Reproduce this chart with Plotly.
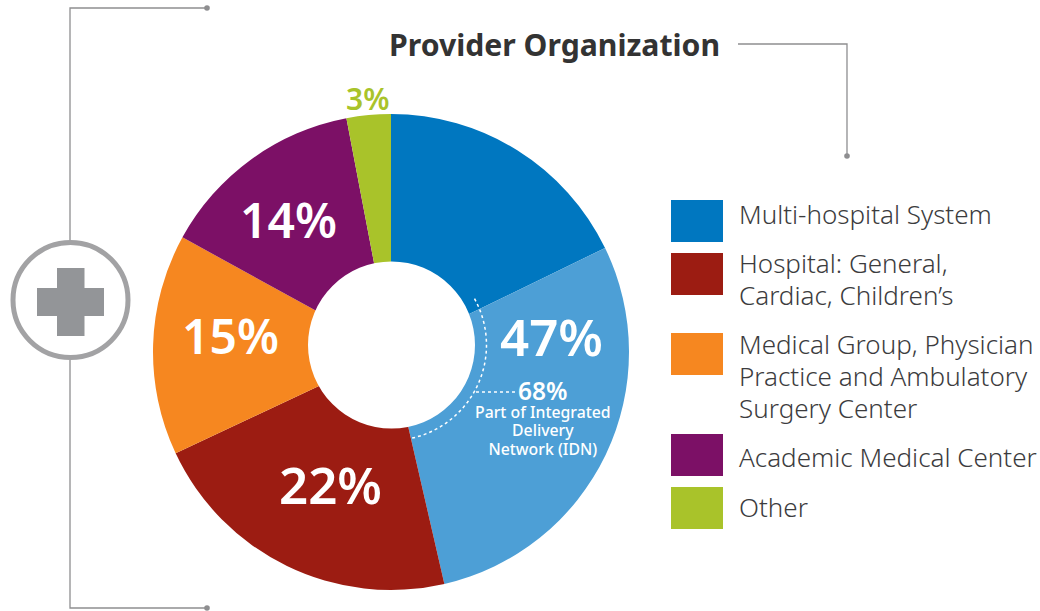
import numpy as np
import plotly.graph_objects as go

W, H = 1040, 611

slice_names = ["Multi-hospital System, outside IDN", "Multi-hospital System, part of IDN",
               "Hospital: General, Cardiac, Children's",
               "Medical Group, Physician Practice and Ambulatory Surgery Center",
               "Academic Medical Center", "Other"]
slice_values = [17.8, 28.6, 21.6, 15, 14, 3]
slice_colors = ["#0077C0", "#4D9FD6", "#9C1C12", "#F68720", "#7C1066", "#A9C32A"]

legend_colors = ["#0077C0", "#9C1C12", "#F68720", "#7C1066", "#A9C32A"]
legend_tops = [200, 253, 333, 434, 487]
legend_labels = [(["Multi-hospital System"], 214), (["Hospital: General,", "Cardiac, Children’s"], 279),
                 (["Medical Group, Physician", "Practice and Ambulatory", "Surgery Center"], 376),
                 (["Academic Medical Center"], 457), (["Other"], 507)]

pct_labels = [("47%", 551, 336, 51, "white"), ("22%", 330, 484, 51, "white"), ("15%", 230, 335, 48, "white"),
              ("14%", 288, 219, 48, "white"), ("3%", 367, 98, 30, "#A9C32A")]
idn_lines = ["Part of Integrated", "Delivery", "Network (IDN)"]
idn_head = "68%"

FONT = "Noto Sans"
GREY = "#8E8E90"


def px(x):
    return x / W


def py(y):
    return 1 - y / H


fig = go.Figure(go.Pie(
    labels=slice_names, values=slice_values, sort=False, direction="clockwise", rotation=0,
    hole=0.3, textinfo="none", hoverinfo="label+percent", showlegend=False,
    marker=dict(colors=slice_colors, line=dict(width=0)),
    domain=dict(x=[px(153), px(629)], y=[py(590), py(114)]),
))

shapes = []


def line_path(points, **kw):
    d = "M " + " L ".join(f"{px(x):.5f},{py(y):.5f}" for x, y in points)
    shapes.append(dict(type="path", path=d, xref="paper", yref="paper", **kw))


def circle(cx, cy, r, **kw):
    shapes.append(dict(type="circle", xref="paper", yref="paper",
                       x0=px(cx - r), x1=px(cx + r), y0=py(cy + r), y1=py(cy - r), **kw))


def rect(x0, y0, x1, y1, **kw):
    shapes.append(dict(type="rect", xref="paper", yref="paper",
                       x0=px(x0), x1=px(x1), y0=py(y1), y1=py(y0), **kw))


# off-centre white hole
circle(391.5, 345, 83.5, fillcolor="white", line=dict(width=0))

# dashed IDN arc and leader
ang = np.linspace(np.radians(-29), np.radians(78), 40)
arc = [(391 + 95.5 * np.cos(a), 345 + 95.5 * np.sin(a)) for a in ang]
white_dash = dict(color="white", width=1.5, dash="3px,3px")
line_path(arc, line=white_dash)
line_path([(476, 392), (516, 392)], line=white_dash)

# brackets
lw = dict(color=GREY, width=1.3)
line_path([(207, 8), (70, 8), (70, 241)], line=lw)
line_path([(70, 360), (70, 608), (207, 608)], line=lw)
line_path([(738, 44), (847, 44), (847, 156)], line=lw)
for x, y in [(207, 8), (207, 608), (847, 156)]:
    circle(x, y, 2.8, fillcolor=GREY, line=dict(width=0))

# icon
circle(70.5, 300, 57.5, fillcolor="white", line=dict(color="#A2A2A4", width=5))
rect(57, 268, 84.5, 336, fillcolor="#939598", line=dict(width=0))
rect(37, 288, 104, 316, fillcolor="#939598", line=dict(width=0))

# legend swatches
for c, t in zip(legend_colors, legend_tops):
    rect(671, t, 723, t + 42, fillcolor=c, line=dict(width=0))

ann = []


def text(s, x, y, size, color, anchor="center", weight=400, family=FONT):
    ann.append(dict(text=s, x=px(x), y=py(y), xref="paper", yref="paper", showarrow=False,
                    xanchor=anchor, yanchor="middle", align=anchor, borderpad=0,
                    font=dict(family=family, size=size, color=color, weight=weight)))


def sized(lines, size):
    return "<br>".join(f"<span style='font-size:{size}px'>{s}</span>" for s in lines)


text("Provider Organization", 554, 44, 30.2, "#333333", weight=700)
for lines, y in legend_labels:
    text(sized(lines, 26), 737.5, y, 24.6, "#3C3C3E", anchor="left", weight=300)
for s, x, y, size, c in pct_labels:
    text(s, x, y, size, c, weight=600)
idn_text = (f"<span style='font-size:24.5px;font-weight:600'>{idn_head}</span><br>" + sized(idn_lines, 15.8))
text(idn_text, 543, 417, 14, "white", weight=500)

fig.update_layout(width=W, height=H, margin=dict(l=0, r=0, t=0, b=0), autosize=False,
                  paper_bgcolor="white", plot_bgcolor="white", shapes=shapes, annotations=ann)
fig.write_html("out.html", config=dict(displayModeBar=False),
               post_script="document.body.style.margin='0';")
